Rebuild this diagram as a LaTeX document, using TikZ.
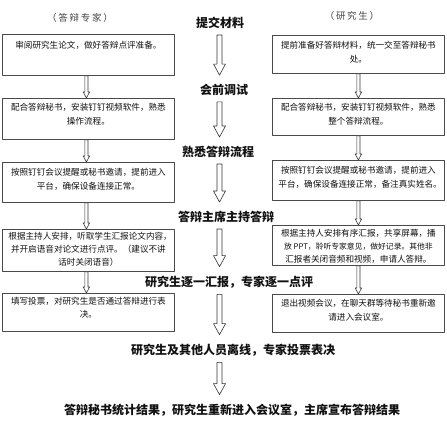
\documentclass[tikz,border=0pt]{standalone}
\usepackage{fontspec}
\newfontfamily\cjk{Noto Sans CJK SC}
\newfontfamily\cjkwide[LetterSpace=18]{Noto Sans CJK SC}
\usetikzlibrary{calc,positioning}
\definecolor{defLine}{HTML}{4A4A4A}
\definecolor{defInk}{HTML}{111111}
\definecolor{defHead}{HTML}{444444}

% text block inside a box: height, top padding, text
\newcommand\boxtext[3]{\parbox[t][#1pt][t]{160pt}{\centering\vspace*{#2pt}#3}}
% open block arrow pointing down: from, to, shaft half width, head half width, head length
\newcommand\hollowarrow[5]{\draw[hollow] let \p1=(#1), \p2=(#2) in (\x1-#3,\y1) -- (\x1-#3,\y2+#5) -- (\x1-#4,\y2+#5) -- (\x1,\y2) -- (\x1+#4,\y2+#5) -- (\x1+#3,\y2+#5) -- (\x1+#3,\y1) -- cycle;}
\newcommand\bigarrow[2]{\hollowarrow{#1}{#2}{2.5}{6}{11}}
\newcommand\smallarrow[2]{\hollowarrow{#1}{#2}{1.6}{3.2}{6}}

\begin{document}
\begin{tikzpicture}[x=1pt,y=-1pt,line cap=round,line join=round]
\tikzset{box/.style={draw=defLine,fill=white,line width=0.8pt,anchor=north west,inner xsep=6pt,inner ysep=0pt,text=defInk,font=\cjk\fontsize{8.6}{13.5}\selectfont},
  stage/.style={inner sep=2pt,text=defInk,font=\cjk\bfseries\fontsize{12}{14}\selectfont},
  role/.style={inner sep=1pt,text=defHead,font=\cjkwide\fontsize{9.5}{11}\selectfont},
  hollow/.style={draw=black!80,fill=white,line width=0.6pt}}
\useasboundingbox (0,0) rectangle (447,431);
\coordinate (axis) at (219.5,0);

% column headings
\node[role] (hexp) at (80,18) {（答辩专家）};
\node[role] (hstu) at (352,16) {（研究生）};

% stages in the middle
\node[stage] (t1) at (220,23) {提交材料};
\node[stage] (t2) at (224,90) {会前调试};
\node[stage] (t3) at (218,152) {熟悉答辩流程};
\node[stage] (t4) at (226,217) {答辩主席主持答辩};
\node[stage] (t5) at (229,282) {研究生逐一汇报，专家逐一点评};
\node[stage] (t6) at (233,350) {研究生及其他人员离线，专家投票表决};
\node[stage] (t7) at (232,410) {答辩秘书统计结果，研究生重新进入会议室，主席宣布答辩结果};

% experts
\node[box] (e1) at (2,34) {\boxtext{41}{7}{审阅研究生论文，做好答辩点评准备。}};
\node[box] (e2) at (2,98) {\boxtext{41}{5}{配合答辩秘书，安装钉钉视频软件，熟悉\\操作流程。}};
\node[box] (e3) at (2,162) {\boxtext{40}{6}{按照钉钉会议提醒或秘书邀请，提前进入\\平台，确保设备连接正常。}};
\node[box] (e4) at (2,229) {\boxtext{42}{2.5}{\baselineskip=13pt 根据主持人安排，听取学生汇报论文内容，\\并开启语音对论文进行点评。（建议不讲\\话时关闭语音）}};
\node[box] (e5) at (2,293) {\boxtext{38}{3.5}{填写投票，对研究生是否通过答辩进行表\\决。}};

% students
\node[box] (s1) at (272,35) {\boxtext{38}{6}{提前准备好答辩材料，统一交至答辩秘书\\处。}};
\node[box] (s2) at (272,98) {\boxtext{37}{5}{配合答辩秘书，安装钉钉视频软件，熟悉\\整个答辩流程。}};
\node[box] (s3) at (272,160) {\boxtext{40}{6}{按照钉钉会议提醒或秘书邀请，提前进入\\平台，确保设备连接正常，备注真实姓名。}};
\node[box] (s4) at (272,225) {\boxtext{40}{3.5}{\baselineskip=13pt 根据主持人安排有序汇报，共享屏幕，播\\{\fontsize{7.8}{13}\selectfont 放~PPT，聆听专家意见，做好记录。其他非}\\汇报者关闭音频和视频，申请人答辩。}};
\node[box] (s5) at (272,294) {\boxtext{38}{5}{退出视频会议，在聊天群等待秘书重新邀\\请进入会议室。}};

% arrows
\bigarrow{$(t1.south -| axis)+(0,4)$}{$(t2.north -| axis)+(0,-7)$}
\bigarrow{$(t2.south -| axis)+(0,4)$}{$(t3.north -| axis)+(0,-7)$}
\bigarrow{$(t3.south -| axis)+(0,4)$}{$(t4.north -| axis)+(0,-7)$}
\bigarrow{$(t4.south -| axis)+(0,4)$}{$(t5.north -| axis)+(0,-7)$}
\bigarrow{$(t5.south -| axis)+(0,4)$}{$(t6.north -| axis)+(0,-7)$}
\bigarrow{$(t6.south -| axis)+(0,4)$}{$(t7.north -| axis)+(0,-7)$}
\smallarrow{$(e1.south)+(-2,0)$}{$(e2.north)+(-2,0)$}
\smallarrow{$(e2.south)+(-2,0)$}{$(e3.north)+(-2,0)$}
\smallarrow{$(e3.south)+(-2,0)$}{$(e4.north)+(-2,0)$}
\smallarrow{$(e4.south)+(-2,0)$}{$(e5.north)+(-2,0)$}
\smallarrow{s1.south}{s2.north}
\smallarrow{s2.south}{s3.north}
\smallarrow{s3.south}{s4.north}
\smallarrow{s4.south}{s5.north}
\end{tikzpicture}
\end{document}
